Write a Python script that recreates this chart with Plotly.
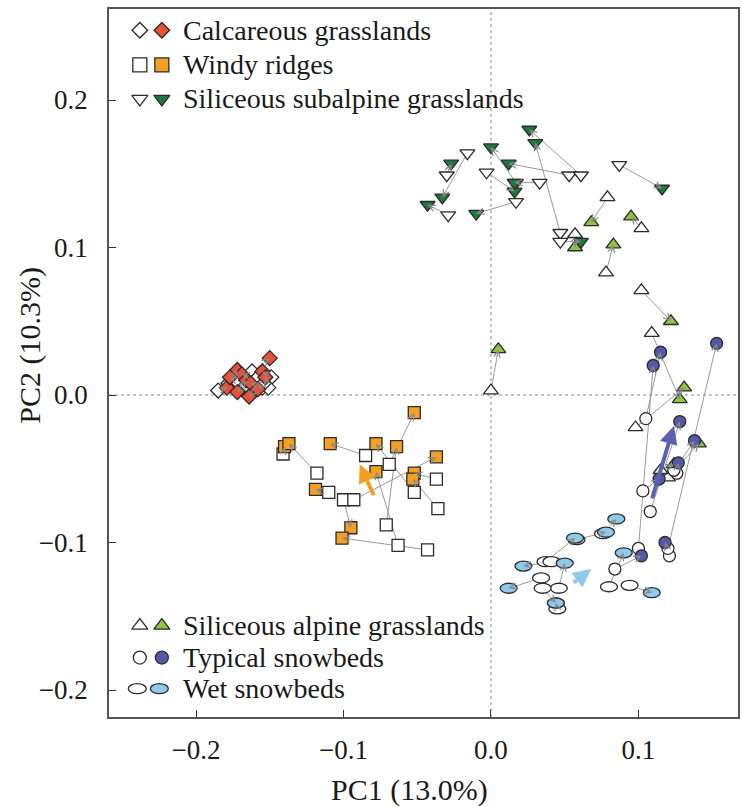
import math
import plotly.graph_objects as go

# ---------------- data (PC1, PC2) : old survey (open) -> new survey (filled) ----------------
cal_old_x = [-0.162, -0.178, -0.158, -0.149, -0.170, -0.155, -0.185, -0.151, -0.166, -0.160, -0.154, -0.173]
cal_old_y = [0.016, 0.008, 0.012, 0.012, 0.005, 0.005, 0.003, 0.005, 0.007, 0.003, 0.008, 0.010]
cal_new_x = [-0.150, -0.172, -0.169, -0.155, -0.166, -0.163, -0.179, -0.153, -0.172, -0.164, -0.158, -0.177]
cal_new_y = [0.025, 0.017, 0.014, 0.016, 0.010, 0.008, 0.005, 0.012, 0.002, -0.001, 0.004, 0.012]

wr_old_x = [-0.141, -0.118, -0.110, -0.085, -0.100, -0.093, -0.069, -0.071, -0.063, -0.043, -0.037, -0.052, -0.036]
wr_old_y = [-0.040, -0.053, -0.066, -0.041, -0.071, -0.071, -0.047, -0.088, -0.102, -0.105, -0.057, -0.066, -0.077]
wr_new_x = [-0.140, -0.137, -0.119, -0.109, -0.095, -0.037, -0.052, -0.064, -0.078, -0.101, -0.052, -0.078, -0.053]
wr_new_y = [-0.035, -0.033, -0.064, -0.033, -0.090, -0.042, -0.012, -0.035, -0.052, -0.097, -0.053, -0.033, -0.057]

ssg_old_x = [-0.016, -0.030, -0.029, -0.003, 0.017, 0.017, 0.053, 0.061, 0.047, 0.033, 0.087, 0.047]
ssg_old_y = [0.164, 0.149, 0.122, 0.151, 0.131, 0.144, 0.149, 0.149, 0.110, 0.144, 0.156, 0.104]
ssg_new_x = [-0.033, -0.027, -0.043, 0.016, -0.010, 0.000, 0.012, 0.026, 0.030, 0.016, 0.116, 0.061]
ssg_new_y = [0.134, 0.157, 0.129, 0.138, 0.123, 0.168, 0.157, 0.180, 0.171, 0.144, 0.140, 0.104]

sag_old_x = [0.079, 0.102, 0.078, 0.102, 0.057, 0.000, 0.109, 0.098, 0.120, 0.115]
sag_old_y = [0.134, 0.113, 0.083, 0.071, 0.109, 0.003, 0.042, -0.022, -0.056, -0.051]
sag_new_x = [0.068, 0.095, 0.083, 0.122, 0.057, 0.005, 0.128, 0.131, 0.141, 0.124]
sag_new_y = [0.117, 0.121, 0.102, 0.050, 0.100, 0.031, -0.003, 0.005, -0.033, -0.047]

ts_old_x = [0.100, 0.105, 0.103, 0.108, 0.126, 0.121, 0.084, 0.124, 0.120]
ts_old_y = [-0.104, -0.016, -0.065, -0.079, -0.053, -0.109, -0.118, -0.051, -0.104]
ts_new_x = [0.110, 0.115, 0.114, 0.128, 0.127, 0.118, 0.102, 0.138, 0.153]
ts_new_y = [0.020, 0.029, -0.057, -0.018, -0.046, -0.100, -0.109, -0.031, 0.035]

ws_old_x = [0.037, 0.034, 0.041, 0.046, 0.035, 0.080, 0.094, 0.058, 0.076, 0.045]
ws_old_y = [-0.113, -0.124, -0.113, -0.131, -0.131, -0.130, -0.129, -0.098, -0.094, -0.145]
ws_new_x = [0.057, 0.012, 0.022, 0.050, 0.044, 0.090, 0.109, 0.078, 0.085, 0.044]
ws_new_y = [-0.097, -0.131, -0.116, -0.114, -0.141, -0.107, -0.134, -0.093, -0.084, -0.141]

# group mean shift arrows (tail -> head)
mean_names = ["Windy ridges", "Typical snowbeds", "Wet snowbeds"]
mean_tail_x = [-0.079, 0.109, 0.055]
mean_tail_y = [-0.069, -0.071, -0.128]
mean_head_x = [-0.089, 0.124, 0.068]
mean_head_y = [-0.047, -0.021, -0.118]

x_ticks = [-0.2, -0.1, 0.0, 0.1]
y_ticks = [-0.2, -0.1, 0.0, 0.1, 0.2]

# ---------------- styling ----------------
W, H = 742, 807
ML, MR, MT, MB = 109, 2, 9, 90
XR = [-0.259, 0.1675]
YR = [-0.2183, 0.2617]
FONT = "Liberation Serif, Times New Roman, serif"
EDGE = "#2b2b2b"
LINE_GREY = "#9a9a9a"

COL = {
    "cal": "#e8503a", "wr": "#f5a023", "ssg": "#1e7a3c",
    "sag": "#8dc63f", "ts": "#5558a8", "ws": "#8ecbea",
}
mean_cols = ["#f5a023", "#5a62b0", "#8ecbea"]

groups = [
    ("cal", "diamond", 11.5, cal_old_x, cal_old_y, cal_new_x, cal_new_y),
    ("wr", "square", 12, wr_old_x, wr_old_y, wr_new_x, wr_new_y),
    ("ssg", "triangle-down", 13, ssg_old_x, ssg_old_y, ssg_new_x, ssg_new_y),
    ("sag", "triangle-up", 13, sag_old_x, sag_old_y, sag_new_x, sag_new_y),
    ("ts", "circle", 12, ts_old_x, ts_old_y, ts_new_x, ts_new_y),
    ("ws", "ellipse", 0, ws_old_x, ws_old_y, ws_new_x, ws_new_y),
]

fig = go.Figure()
shapes = []
annotations = []

sx = (W - ML - MR) / (XR[1] - XR[0])
sy = (H - MT - MB) / (YR[1] - YR[0])

# dotted zero lines
shapes.append(dict(type="line", xref="x", yref="paper", x0=0, x1=0, y0=0, y1=1,
                   line=dict(color="#8a8a8a", width=1, dash="dot"), layer="below"))
shapes.append(dict(type="line", xref="paper", yref="y", x0=0, x1=1, y0=0, y1=0,
                   line=dict(color="#8a8a8a", width=1, dash="dot"), layer="below"))

# connecting lines
lx, ly = [], []
for key, sym, size, ox, oy, nx, ny in groups:
    for a, b, c, d in zip(ox, oy, nx, ny):
        lx += [a, c, None]
        ly += [b, d, None]
fig.add_trace(go.Scatter(x=lx, y=ly, mode="lines", line=dict(color=LINE_GREY, width=1),
                         hoverinfo="skip", showlegend=False))

# markers
for key, sym, size, ox, oy, nx, ny in groups:
    if sym == "ellipse":
        for a, b in zip(ox, oy):
            shapes.append(dict(type="circle", xref="x", yref="y", xsizemode="pixel", ysizemode="pixel",
                               xanchor=a, yanchor=b, x0=-8.5, x1=8.5, y0=-5, y1=5,
                               fillcolor="white", line=dict(color=EDGE, width=1.3), layer="above"))
        for a, b in zip(nx, ny):
            shapes.append(dict(type="circle", xref="x", yref="y", xsizemode="pixel", ysizemode="pixel",
                               xanchor=a, yanchor=b, x0=-8.5, x1=8.5, y0=-5, y1=5,
                               fillcolor=COL[key], line=dict(color=EDGE, width=1.3), layer="above"))
        continue
    fig.add_trace(go.Scatter(x=ox, y=oy, mode="markers", showlegend=False, hoverinfo="skip",
                             marker=dict(symbol=sym, size=size, color="white",
                                         line=dict(color=EDGE, width=1.3))))
for key, sym, size, ox, oy, nx, ny in groups:
    if sym == "ellipse":
        continue
    fig.add_trace(go.Scatter(x=nx, y=ny, mode="markers", showlegend=False, hoverinfo="skip",
                             marker=dict(symbol=sym, size=size, color=COL[key],
                                         line=dict(color=EDGE, width=1.3))))

# small grey arrow heads at the new positions
for key, sym, size, ox, oy, nx, ny in groups:
    for a, b, c, d in zip(ox, oy, nx, ny):
        dxp = (a - c) * sx
        dyp = -(b - d) * sy
        ln = math.hypot(dxp, dyp)
        if ln < 1e-6:
            continue
        L = min(9.0, ln)
        annotations.append(dict(x=c, y=d, xref="x", yref="y", ax=dxp / ln * L, ay=dyp / ln * L,
                                text="", showarrow=True, arrowhead=5, arrowsize=1.6,
                                arrowwidth=0.8, arrowcolor="#8a8a8a", standoff=0))

# thick group mean arrows
for tx, ty, hx, hy, c in zip(mean_tail_x, mean_tail_y, mean_head_x, mean_head_y, mean_cols):
    annotations.append(dict(x=hx, y=hy, ax=tx, ay=ty, xref="x", yref="y", axref="x", ayref="y",
                            text="", showarrow=True, arrowhead=2, arrowsize=0.9, arrowwidth=4,
                            arrowcolor=c, standoff=0))

# ---------------- legend (drawn on an overlay 0..1 axis) ----------------
leg_labels = ["Calcareous grasslands", "Windy ridges", "Siliceous subalpine grasslands",
              "Siliceous alpine grasslands", "Typical snowbeds", "Wet snowbeds"]
leg_keys = ["cal", "wr", "ssg", "sag", "ts", "ws"]
leg_syms = ["diamond", "square", "triangle-down", "triangle-up", "circle", "ellipse"]
leg_sizes = [12, 14, 14, 14, 13, 0]
leg_y = [0.970, 0.921, 0.873, 0.129, 0.084, 0.040]
leg_x_open, leg_x_fill, leg_x_text = 0.049, 0.084, 0.114

for lab, k, s, sz, yy in zip(leg_labels, leg_keys, leg_syms, leg_sizes, leg_y):
    if s == "ellipse":
        for xx, fc in [(leg_x_open - 0.004, "white"), (leg_x_fill - 0.004, COL[k])]:
            shapes.append(dict(type="circle", xref="paper", yref="paper", xsizemode="pixel",
                               ysizemode="pixel", xanchor=xx, yanchor=yy, x0=-9, x1=9, y0=-5, y1=5,
                               fillcolor=fc, line=dict(color=EDGE, width=1.3), layer="above"))
    else:
        fig.add_trace(go.Scatter(x=[leg_x_open, leg_x_fill], y=[yy, yy], xaxis="x2", yaxis="y2",
                                 mode="markers", showlegend=False, hoverinfo="skip",
                                 marker=dict(symbol=s, size=sz, color=["white", COL[k]],
                                             line=dict(color=EDGE, width=1.3))))
    annotations.append(dict(x=leg_x_text, y=yy, xref="paper", yref="paper", text=lab,
                            showarrow=False, xanchor="left", yanchor="middle",
                            font=dict(family=FONT, size=28, color="#1a1a1a")))

# axis titles
annotations.append(dict(x=0.477, y=-0.103, xref="paper", yref="paper", text="PC1 (13.0%)",
                        showarrow=False, xanchor="center", yanchor="middle",
                        font=dict(family=FONT, size=30, color="#1a1a1a")))
annotations.append(dict(x=-0.125, y=0.525, xref="paper", yref="paper", text="PC2 (10.3%)",
                        showarrow=False, xanchor="center", yanchor="middle", textangle=-90,
                        font=dict(family=FONT, size=30, color="#1a1a1a")))

axis_common = dict(showgrid=False, zeroline=False, showline=True, linecolor="#555555",
                   linewidth=1.5, mirror=True, ticks="inside", ticklen=7, tickwidth=1.2,
                   tickcolor="#333333", tickformat=".1f",
                   tickfont=dict(family=FONT, size=27, color="#1a1a1a"))

fig.update_layout(
    width=W, height=H, margin=dict(l=ML, r=MR, t=MT, b=MB),
    paper_bgcolor="white", plot_bgcolor="white", showlegend=False,
    xaxis=dict(range=XR, tickvals=x_ticks, ticklabelstandoff=8, **axis_common),
    yaxis=dict(range=YR, tickvals=y_ticks, ticklabelstandoff=14, **axis_common),
    xaxis2=dict(range=[0, 1], overlaying="x", anchor="y2", visible=False),
    yaxis2=dict(range=[0, 1], overlaying="y", anchor="x2", visible=False),
    shapes=shapes, annotations=annotations,
)

fig.write_html("out.html")
